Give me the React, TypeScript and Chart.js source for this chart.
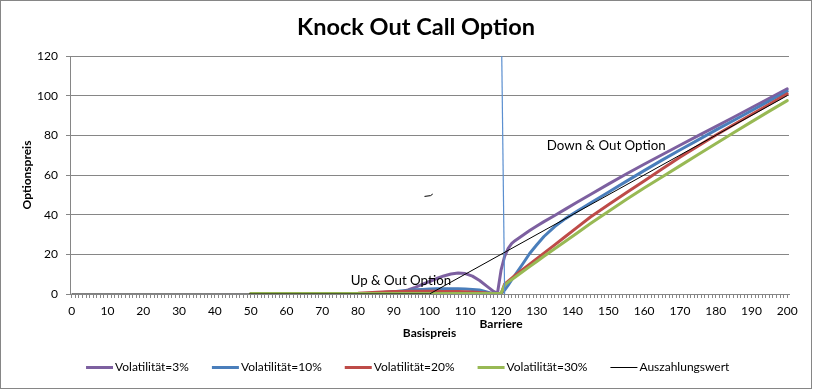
import React, { useEffect, useRef } from 'react';
import { Chart, registerables } from 'chart.js';

Chart.register(...registerables);

const TITLE = 'Knock Out Call Option';
const Y_TITLE = 'Optionspreis';
const X_TITLE = 'Basispreis';
const BARRIER_LABEL = 'Barriere';

const xTickLabels = [0, 10, 20, 30, 40, 50, 60, 70, 80, 90, 100, 110, 120, 130, 140, 150, 160, 170, 180, 190, 200];
const yTicks = [0, 20, 40, 60, 80, 100, 120];

const seriesLabels = ['Volatilität=3%', 'Volatilität=10%', 'Volatilität=20%', 'Volatilität=30%', 'Auszahlungswert'];
const seriesColors = ['#7D60A0', '#4A7EBB', '#BE4B48', '#98B954', '#000000'];

const volX = [50, 60, 70, 80, 84, 88, 90, 92, 94, 96, 98, 100, 102, 104, 106, 108, 110, 112, 114, 116, 117, 118, 119, 120, 121, 122, 123, 124, 126, 128, 130, 132, 135, 138, 141, 145, 150, 155, 160, 165, 170, 175, 180, 185, 190, 195, 200];
const vol3 = [0, 0, 0, 0, 0, 0.1, 0.4, 1.0, 2.0, 3.3, 4.8, 6.3, 7.8, 9.1, 10.1, 10.6, 10.3, 9.0, 6.8, 4.0, 2.6, 1.2, 0.4, 12.0, 19.0, 23.0, 25.5, 27.0, 29.5, 32.0, 34.3, 36.5, 39.6, 42.8, 46.0, 50.2, 55.4, 60.5, 65.4, 70.2, 75.0, 79.7, 84.4, 89.1, 93.9, 98.6, 103.4];
const vol10 = [0, 0, 0, 0.1, 0.4, 0.9, 1.2, 1.5, 1.8, 2.1, 2.3, 2.5, 2.6, 2.7, 2.7, 2.6, 2.5, 2.3, 2.0, 1.0, 0.5, 0.2, 0, 0, 2.0, 4.5, 7.2, 9.8, 15.0, 20.4, 24.8, 29.0, 34.0, 38.0, 41.5, 45.9, 51.3, 56.8, 62.2, 67.5, 72.6, 77.6, 82.6, 87.5, 92.4, 97.3, 102.2];
const vol20 = [0, 0, 0.1, 0.4, 0.8, 1.1, 1.2, 1.3, 1.4, 1.4, 1.4, 1.4, 1.4, 1.3, 1.3, 1.2, 1.1, 1.0, 0.8, 0.5, 0.4, 0.2, 0.1, 0, 5.0, 6.5, 8.0, 9.5, 12.3, 15.0, 17.8, 20.6, 24.8, 29.0, 33.2, 38.8, 45.0, 51.0, 57.0, 63.0, 69.0, 74.5, 80.0, 85.3, 90.5, 95.7, 100.9];
const vol30 = [0.3, 0.3, 0.3, 0.3, 0.3, 0.3, 0.3, 0.3, 0.3, 0.3, 0.3, 0.3, 0.3, 0.3, 0.3, 0.3, 0.3, 0.3, 0.3, 0.3, 0.3, 0.3, 0.3, 0.3, 4.5, 6.0, 7.3, 8.6, 11.2, 13.8, 16.4, 19.0, 22.8, 26.6, 30.4, 35.5, 41.6, 47.6, 53.4, 59.0, 64.6, 70.2, 75.8, 81.3, 86.8, 92.2, 97.5];

const payoffX = [0, 100, 200];
const payoff = [0, 0, 100];

const barrierX = [120.2, 121];
const barrierY = [120, 0];

const annotations = [
  { text: 'Up & Out Option', x: 92, y: 6.5 },
  { text: 'Down & Out Option', x: 149.4, y: 74.9 },
];

const FONT = 'Lato, "Open Sans", sans-serif';

function pts(xs: number[], ys: number[]) {
  return xs.map((x, i) => ({ x, y: ys[i] }));
}

const drawPlugin = {
  id: 'customDraw',
  afterDraw(chart: any) {
    const { ctx } = chart;
    const xs = chart.scales.x;
    const ys = chart.scales.y;
    const area = chart.chartArea;
    ctx.save();
    // border
    ctx.strokeStyle = '#868686';
    ctx.lineWidth = 1;
    ctx.strokeRect(0.5, 0.5, chart.width - 2, chart.height - 1);

    ctx.fillStyle = '#000';
    ctx.textAlign = 'center';
    ctx.textBaseline = 'middle';

    // title
    ctx.font = `bold 24px ${FONT}`;
    const tw = ctx.measureText(TITLE).width;
    const ts = (24 * 238) / tw;
    ctx.font = `bold ${ts}px ${FONT}`;
    ctx.fillText(TITLE, 416, 27);

    // axis titles
    ctx.font = `bold 12px ${FONT}`;
    ctx.fillText(X_TITLE, (area.left + area.right) / 2, 333);
    ctx.fillText(BARRIER_LABEL, xs.getPixelForValue(120), 324);
    ctx.save();
    ctx.translate(27, (area.top + area.bottom) / 2);
    ctx.rotate(-Math.PI / 2);
    ctx.fillText(Y_TITLE, 0, 0);
    ctx.restore();

    // annotations
    ctx.font = `13.3px ${FONT}`;
    for (const a of annotations) {
      ctx.fillText(a.text, xs.getPixelForValue(a.x), ys.getPixelForValue(a.y));
    }

    // small stray mark
    ctx.strokeStyle = '#000';
    ctx.lineWidth = 1;
    ctx.beginPath();
    ctx.moveTo(xs.getPixelForValue(98.6), ys.getPixelForValue(49.2));
    ctx.lineTo(xs.getPixelForValue(100.3), ys.getPixelForValue(49.6));
    ctx.lineTo(xs.getPixelForValue(100.9), ys.getPixelForValue(50.4));
    ctx.stroke();

    // legend
    ctx.font = `12px ${FONT}`;
    ctx.textAlign = 'left';
    const sample = 27;
    const gapText = 2;
    const gapItem = 23;
    const widths = seriesLabels.map((l) => sample + gapText + ctx.measureText(l).width);
    const total = widths.reduce((a, b) => a + b, 0) + gapItem * (widths.length - 1);
    let x = 407.7 - total / 2;
    const ly = 367.5;
    seriesLabels.forEach((l, i) => {
      ctx.strokeStyle = seriesColors[i];
      ctx.lineWidth = i === 4 ? 1 : 3;
      ctx.lineCap = 'butt';
      ctx.beginPath();
      ctx.moveTo(x, ly);
      ctx.lineTo(x + sample, ly);
      ctx.stroke();
      ctx.fillStyle = '#000';
      ctx.fillText(l, x + sample + gapText, ly);
      x += widths[i] + gapItem;
    });
    ctx.restore();
  },
};

export default function App() {
  const ref = useRef<HTMLCanvasElement | null>(null);
  useEffect(() => {
    if (!ref.current) return;
    const lineOpts = (i: number) => ({
      label: seriesLabels[i],
      borderColor: seriesColors[i],
      backgroundColor: seriesColors[i],
      borderWidth: i === 4 ? 1 : 3,
      pointRadius: 0,
      tension: 0,
      fill: false,
      borderCapStyle: 'round' as const,
      borderJoinStyle: 'round' as const,
    });
    const chart = new Chart(ref.current, {
      type: 'line',
      data: {
        datasets: [
          { ...lineOpts(0), data: pts(volX, vol3), order: 5 },
          { ...lineOpts(1), data: pts(volX, vol10), order: 4 },
          { ...lineOpts(2), data: pts(volX, vol20), order: 3 },
          { ...lineOpts(3), data: pts(volX, vol30), order: 2 },
          { ...lineOpts(4), data: pts(payoffX, payoff), order: 0 },
          {
            label: 'Barriere',
            data: pts(barrierX, barrierY),
            borderColor: '#5B8FD0',
            borderWidth: 1.2,
            pointRadius: 0,
            order: 1,
          },
        ],
      },
      options: {
        responsive: false,
        animation: false,
        layout: { padding: { top: 56, right: 24, bottom: 45, left: 0 } },
        plugins: {
          legend: { display: false },
          title: { display: false },
          tooltip: { enabled: false },
        },
        scales: {
          x: {
            type: 'linear',
            min: -0.5,
            max: 200.5,
            afterBuildTicks: (s: any) => {
              const t = [];
              for (let v = 0; v <= 200; v++) t.push({ value: v });
              s.ticks = t;
            },
            afterFit: (s: any) => {
              s.height = 50;
            },
            ticks: {
              autoSkip: false,
              maxRotation: 0,
              minRotation: 0,
              padding: 6,
              color: '#000',
              font: { family: FONT, size: 12 },
              callback: (v: any) => (xTickLabels.includes(Number(v)) ? String(v) : ''),
            },
            grid: { drawOnChartArea: false, drawTicks: true, tickLength: 4, color: '#868686' },
            border: { color: '#868686' },
          },
          y: {
            type: 'linear',
            min: 0,
            max: 120,
            afterBuildTicks: (s: any) => {
              s.ticks = yTicks.map((v) => ({ value: v }));
            },
            afterFit: (s: any) => {
              s.width = 70;
            },
            ticks: {
              padding: 8,
              color: '#000',
              font: { family: FONT, size: 12 },
            },
            grid: { color: '#868686', tickLength: 4 },
            border: { color: '#868686' },
          },
        },
      },
      plugins: [drawPlugin],
    });
    return () => chart.destroy();
  }, []);
  return (
    <div style={{ position: 'absolute', left: 0, top: 0, width: 813, height: 389, background: '#fff' }}>
      <canvas ref={ref} width={813} height={389} />
    </div>
  );
}
